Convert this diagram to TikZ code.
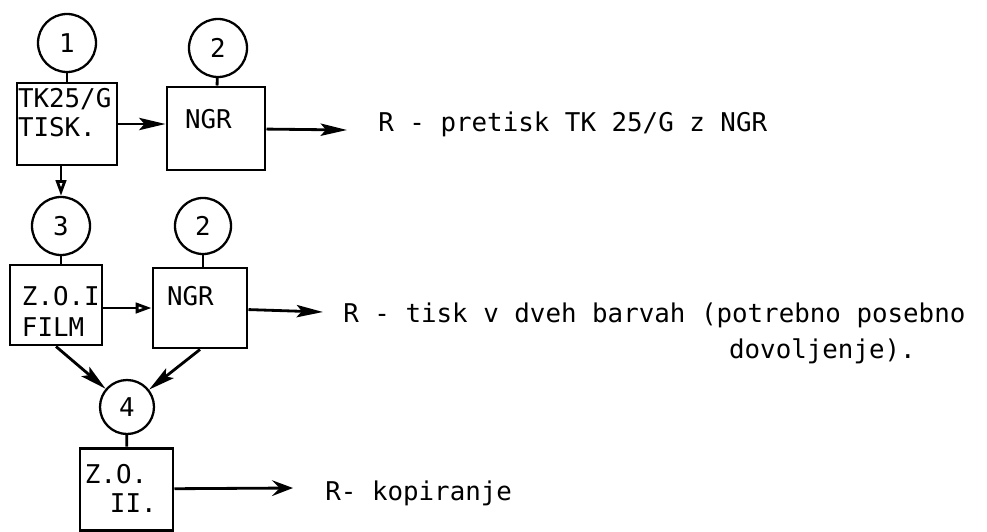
\documentclass[tikz,border=0pt]{standalone}
\usepackage{fontspec}
\usepackage{tikz}
\usetikzlibrary{arrows.meta}
\newfontfamily\typefont{DejaVu Sans Mono}
\pgfdeclarelayer{edgelayer}
\pgfdeclarelayer{nodelayer}
\pgfsetlayers{edgelayer,nodelayer,main}
\tikzstyle{none}=[inner sep=0pt, font=\typefont\fontsize{14.7pt}{17pt}\selectfont]
\tikzstyle{circ}=[circle, draw=black, line width=1.3pt, minimum size=1.16cm, inner sep=0pt, font=\typefont\fontsize{14.7pt}{17pt}\selectfont]
\tikzstyle{box}=[rectangle, draw=black, line width=1.7pt, inner ysep=0pt, align=left, font=\typefont\fontsize{14.7pt}{17pt}\selectfont]
\tikzstyle{edge}=[draw=black, line width=1.6pt]
\tikzstyle{arrow}=[edge, -{Stealth[length=15pt, width=7pt, inset=3pt]}]
\tikzstyle{openarrow}=[edge, -{Triangle[open, length=9pt, width=6pt]}]
\tikzstyle{kop}=[edge, -{Stealth[length=12pt, width=9pt, inset=4.5pt]}]

\begin{document}
\begin{tikzpicture}
				\useasboundingbox (0, 0) rectangle (19.74, -10.62);
				\begin{pgfonlayer}{nodelayer}
					\node [style=circ] (0) at (1.34, -0.86) {1};
					\node [style=box, minimum width=2.0cm, minimum height=1.64cm, inner xsep=0.02cm, text width=1.96cm, text height=0.35cm, text depth=1.03cm] (1) at (1.34, -2.48) {TK25/G\\[0pt]TISK.};
					\node [style=circ] (2) at (4.36, -0.96) {2};
					\node [style=box, minimum width=1.96cm, minimum height=1.66cm, inner xsep=0.36cm, text width=1.24cm, text height=0.3cm, text depth=0.3cm] (3) at (4.32, -2.57) {NGR};
					\node [style=circ] (4) at (1.22, -4.52) {3};
					\node [style=circ, minimum size=1.12cm] (5) at (4.06, -4.52) {2};
					\node [style=box, minimum width=1.84cm, minimum height=1.6cm, inner xsep=0.24cm, text width=1.36cm, text height=0.35cm, text depth=0.35cm] (6) at (1.12, -6.10) {Z.O.I\\[1pt]FILM};
					\node [style=box, minimum width=1.88cm, minimum height=1.6cm, inner xsep=0.28cm, text width=1.32cm, text height=0.3cm, text depth=0.42cm] (7) at (4.0, -6.16) {NGR};
					\node [style=circ, minimum size=1.08cm] (8) at (2.54, -8.14) {4};
					\node [style=box, minimum width=1.86cm, minimum height=1.64cm, inner xsep=0.1cm, text width=1.66cm, text height=0.35cm, text depth=0.59cm] (9) at (2.53, -9.78) {Z.O.\\\hspace*{0.5cm}II.};
					\node [style=none, anchor=base west] (10) at (7.56, -2.62) {R - pretisk TK 25/G z NGR};
					\node [style=none, anchor=base west, align=left] (11) at (6.86, -7.16) {R - tisk v dveh barvah (potrebno posebno\\[3pt]\hphantom{R - tisk v dveh barvah (}\hspace*{0.25cm}dovoljenje).};
					\node [style=none, anchor=base west] (12) at (6.5, -10.0) {R- kopiranje};
					\coordinate (13) at (6.94, -2.60);
					\coordinate (14) at (6.46, -6.24);
					\coordinate (15) at (5.86, -9.76);
				\end{pgfonlayer}
				\begin{pgfonlayer}{edgelayer}
					\draw [style=edge] (0) to (1);
					\draw [style=edge] (2) to (3);
					\draw [style=arrow] (1) to (1 -| 3.west);
					\draw [style=arrow] (3) to (13);
					\draw [style=openarrow] (4 |- 1.south) to (4);
					\draw [style=edge] (4) to (4 |- 6.north);
					\draw [style=edge] (5) to (5 |- 7.north);
					\draw [style=openarrow] (7 -| 6.east) to (7);
					\draw [style=arrow] (7) to (14);
					\draw [style=arrow] (6.south) to (8);
					\draw [style=arrow] (7.south) to (8);
					\draw [style=edge] (8) to (9);
					\draw [style=kop] (9) to (15);
				\end{pgfonlayer}
			\end{tikzpicture}
\end{document}
